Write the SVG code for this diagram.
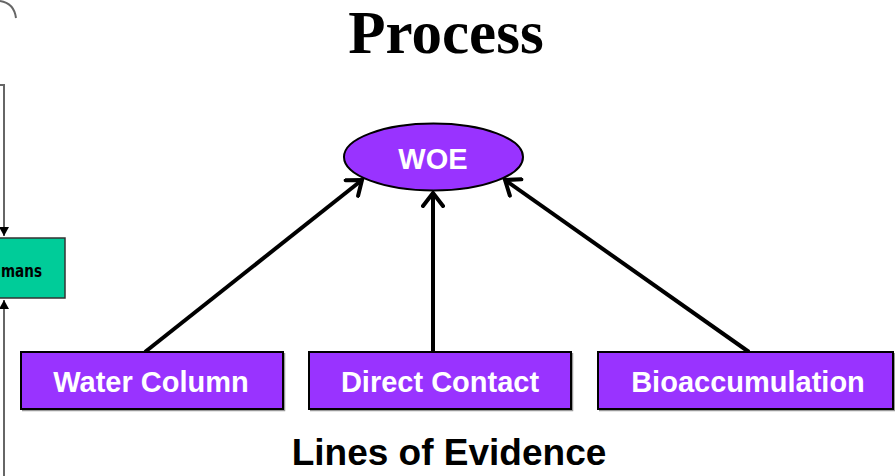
<svg xmlns="http://www.w3.org/2000/svg" width="895" height="476" viewBox="0 0 895 476">
<style>
.box{fill:#9933FF;stroke:#000;stroke-width:2}
.shadow{fill:none;stroke:#999;stroke-width:1.5}
.lbl{font-family:"Liberation Sans",Arial,sans-serif;font-weight:bold;font-size:29px;fill:#fff;text-anchor:middle}
.conn{stroke:#000;stroke-width:4;fill:none;marker-end:url(#ah)}
.thin{stroke:#666;stroke-width:2;fill:none}
</style>
<defs>
<marker id="ah" markerUnits="userSpaceOnUse" viewBox="-16 -12 20 24" refX="0" refY="0" markerWidth="20" markerHeight="24" orient="auto">
<path d="M-13,-10 L0,0 L-13,10" fill="none" stroke="#000" stroke-width="4" stroke-linecap="round" stroke-linejoin="miter"/>
</marker>
<marker id="tri" markerUnits="userSpaceOnUse" viewBox="-10 -6 10 12" refX="0" refY="0" markerWidth="10" markerHeight="12" orient="auto">
<path d="M-9,-5 L0,0 L-9,5 Z" fill="#000"/>
</marker>
</defs>
<rect width="895" height="476" fill="#fff"/>
<g id="left-fragment">
<path d="M0,1 Q14,3 16,18" class="thin" stroke="#777"/>
<path d="M0,85 L4,85 L4,236" class="thin" marker-end="url(#tri)"/>
<path d="M4,476 L4,300" class="thin" marker-end="url(#tri)"/>
<rect x="-5" y="238" width="70" height="60" fill="#00CC99" stroke="#333" stroke-width="1.5"/>
<text x="1" y="277" font-family="'DejaVu Sans',Verdana,sans-serif" font-weight="bold" font-size="17" textLength="41" lengthAdjust="spacingAndGlyphs" fill="#000">mans</text>
</g>
<g id="title"><text x="446" y="53" font-family="'Liberation Serif','Times New Roman',serif" font-weight="bold" font-size="61" text-anchor="middle" fill="#000">Process</text></g>
<g id="connectors">
<line class="conn" x1="145" y1="352" x2="362" y2="180"/>
<line class="conn" x1="433" y1="352" x2="433" y2="193"/>
<line class="conn" x1="749" y1="352" x2="505" y2="180"/>
</g>
<g id="woe">
<ellipse cx="433.5" cy="157" rx="89.5" ry="33.5" fill="#9933FF" stroke="#000" stroke-width="2"/>
<text x="433" y="169" class="lbl" font-size="29">WOE</text>
</g>
<g id="water-column">
<path class="shadow" d="M22,410.5 H284.5 V353"/>
<rect class="box" x="21" y="352" width="262" height="57"/>
<text x="151" y="392" class="lbl">Water Column</text>
</g>
<g id="direct-contact">
<path class="shadow" d="M310,410.5 H572.5 V353"/>
<rect class="box" x="309" y="352" width="262" height="57"/>
<text x="440" y="392" class="lbl">Direct Contact</text>
</g>
<g id="bioaccumulation">
<path class="shadow" d="M599,410.5 H894.5 V353"/>
<rect class="box" x="598" y="352" width="295" height="57"/>
<text x="748" y="392" class="lbl">Bioaccumulation</text>
</g>
<g id="caption"><text x="449" y="465" font-family="'Liberation Sans',Arial,sans-serif" font-weight="bold" font-size="37" text-anchor="middle" fill="#000">Lines of Evidence</text></g>
</svg>
